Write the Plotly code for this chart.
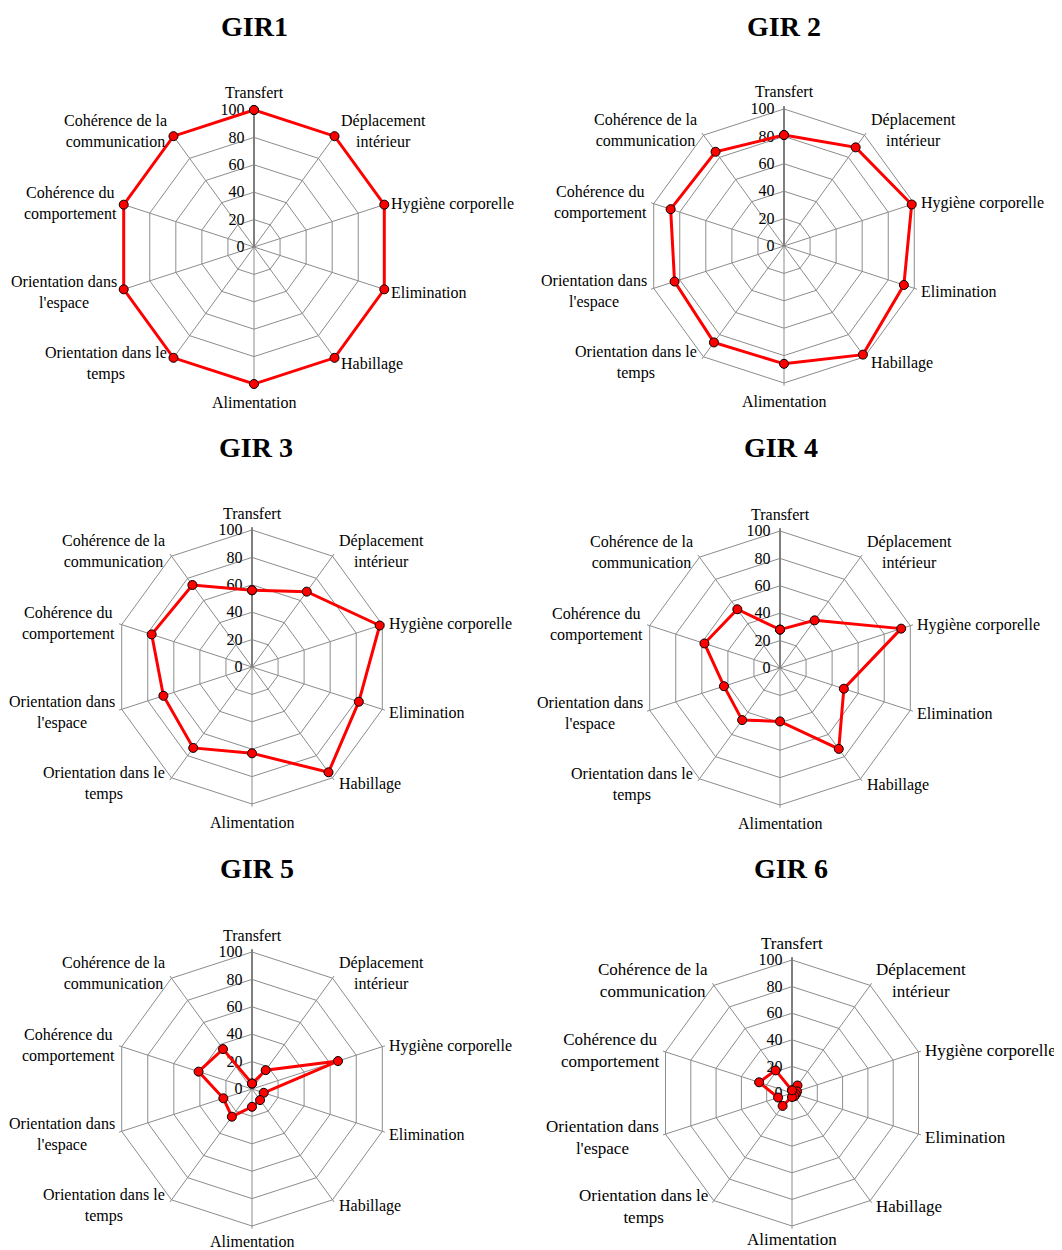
import math
import plotly.graph_objects as go

categories = ["Transfert", "Déplacement intérieur", "Hygiène corporelle", "Elimination",
              "Habillage", "Alimentation", "Orientation dans le temps",
              "Orientation dans l'espace", "Cohérence du comportement",
              "Cohérence de la communication"]
tick_text = ["Transfert", "Déplacement<br>intérieur", "Hygiène corporelle", "Elimination",
             "Habillage", "Alimentation", "Orientation dans le<br>temps",
             "Orientation dans<br>l'espace", "Cohérence du<br>comportement",
             "Cohérence de la<br>communication"]

titles = ["GIR1", "GIR 2", "GIR 3", "GIR 4", "GIR 5", "GIR 6"]
gir1 = [100, 100, 100, 100, 100, 100, 100, 100, 100, 100]
gir2 = [81, 89, 98, 92, 98, 86, 87, 84, 87, 85]
gir3 = [56, 68, 98, 82, 95, 63, 73, 68, 77, 74]
gir4 = [28, 43, 93, 49, 73, 39, 47, 43, 58, 53]
gir5 = [4, 17, 66, 9, 10, 13, 25, 22, 41, 36]
gir6 = [2, 7, 4, 3, 3, 3, 12, 11, 26, 21]
series = [gir1, gir2, gir3, gir4, gir5, gir6]
radial_ticks = [0, 20, 40, 60, 80, 100]
RMAX = 100
PAD_RANGE = 102  # small headroom so the line at 100 is not clipped

OFF = 8  # page body margin
W, H = 1054, 1242
# chart centers / radii (screen pixels) and title positions
centers = [(254, 247, 137), (784, 246, 137), (252, 667, 137),
           (780, 668, 137), (252, 1089, 137), (792, 1093, 133)]
label_sizes = [16, 16, 16, 16, 16, 17]
bottom_dy = [18, 18, 18, 18, 15, 13]
title_pos = [(254, 27), (784, 27), (256, 447), (781, 447), (257, 868), (791, 868)]
# label placement relative to each axis end: (xanchor, dx, dy)
label_place = [("center", 0, -17), ("left", 5, -5), ("left", 6, -1), ("left", 6, 3),
               ("left", 5, 6), ("center", 0, 18), ("right", -5, 6), ("right", -6, 3),
               ("right", -6, -1), ("right", -5, -5)]

font_family = "Liberation Serif"
fig = go.Figure()
layout = dict(width=W, height=H, margin=dict(l=0, r=0, t=0, b=0),
              paper_bgcolor="white", showlegend=False,
              font=dict(family=font_family, size=16, color="black"))
annotations = []
n = len(categories)
for i, (vals, (cx, cy, r)) in enumerate(zip(series, centers)):
    cx -= OFF
    cy -= OFF
    rd = r * PAD_RANGE / RMAX
    name = "polar" if i == 0 else f"polar{i+1}"
    fig.add_trace(go.Scatterpolar(
        r=vals + vals[:1], theta=categories + categories[:1],
        mode="lines+markers", subplot=name, cliponaxis=False,
        line=dict(color="#ff0000", width=3),
        marker=dict(size=9, color="#ff0000", line=dict(color="black", width=1)),
        hoverinfo="skip"))
    layout[name] = dict(
        domain=dict(x=[(cx - rd) / W, (cx + rd) / W],
                    y=[1 - (cy + rd) / H, 1 - (cy - rd) / H]),
        bgcolor="white",
        gridshape="linear",
        angularaxis=dict(direction="clockwise", rotation=90,
                         categoryorder="array", categoryarray=categories,
                         showline=False, showticklabels=False,
                         gridcolor="#8c8c8c", gridwidth=1, ticks="",
                         layer="below traces"),
        radialaxis=dict(range=[0, PAD_RANGE], tickvals=radial_ticks, angle=90,
                        side="counterclockwise", showline=True, tickangle=90,
                        linecolor="#7f7f7f", linewidth=2, layer="below traces",
                        gridcolor="#8c8c8c", gridwidth=1,
                        ticks="outside", ticklen=3, tickcolor="rgba(0,0,0,0)",
                        tickfont=dict(family=font_family, size=16, color="black")))
    # category labels around each chart
    for k, txt in enumerate(tick_text):
        th = math.radians(90 - 360 * k / n)
        vx = cx + r * math.cos(th)
        vy = cy - r * math.sin(th)
        xa, dx, dy = label_place[k]
        if k == 5:
            dy = bottom_dy[i]
        annotations.append(dict(text=txt, x=(vx + dx) / W, y=1 - (vy + dy) / H,
                                xref="paper", yref="paper", showarrow=False,
                                xanchor=xa, yanchor="middle", align="center",
                                borderpad=0,
                                font=dict(family=font_family, size=label_sizes[i],
                                          color="black")))
    tx, ty = title_pos[i]
    annotations.append(dict(text=f"<b>{titles[i]}</b>", x=(tx - OFF) / W, y=1 - (ty - OFF) / H,
                            xref="paper", yref="paper", showarrow=False,
                            xanchor="center", yanchor="middle",
                            font=dict(family=font_family, size=28, color="black")))
layout["annotations"] = annotations
fig.update_layout(**layout)
fig.write_html("out.html")
